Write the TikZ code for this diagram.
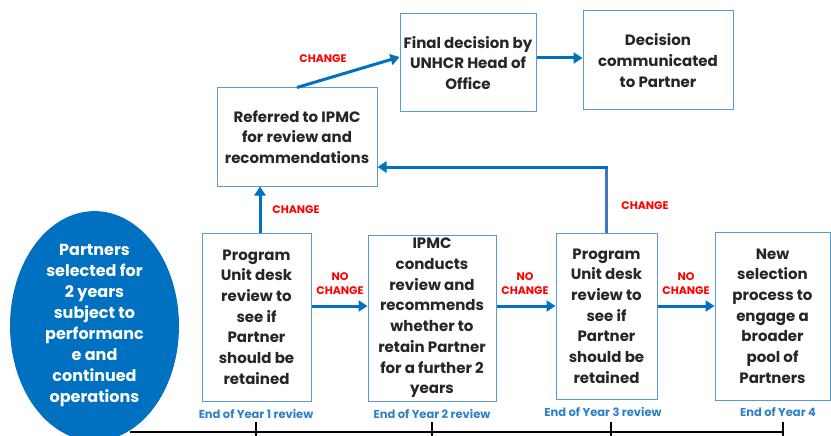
\documentclass[tikz,border=0pt]{standalone}
\usepackage{fontspec}
\setmainfont{Poppins}
\usetikzlibrary{arrows.meta,calc,shapes.geometric}
\definecolor{arrowblue}{HTML}{0070C0}
\definecolor{edgeblue}{HTML}{5B9BD5}
\definecolor{royal}{HTML}{4472C4}
\definecolor{lblblue}{HTML}{2E80C8}
\definecolor{chg}{HTML}{FF0000}
\tikzset{
  box/.style={draw=edgeblue, line width=1pt, fill=white, align=center, inner sep=0pt,
    font=\bfseries\fontsize{15}{20.7}\selectfont, text=black!85},
  flow/.style={draw=arrowblue, line width=3pt, -{Triangle[length=9pt,width=11pt]}},
  chlabel/.style={font=\bfseries\fontsize{11}{14}\selectfont, text=chg, align=center},
  yrlabel/.style={font=\bfseries\fontsize{11.5}{13}\selectfont, text=lblblue},
  tl/.style={draw=black, line width=1.5pt}
}
\begin{document}
\begin{tikzpicture}[x=1pt,y=-1pt]
\useasboundingbox (0,0) rectangle (831,436);
% ellipse
\node[ellipse, fill=arrowblue, minimum width=169pt, minimum height=212pt, inner sep=0pt,
  align=center, text=white, font=\bfseries\fontsize{16}{21}\selectfont] (ell) at (94.5,326)
  {Partners\\selected for\\2 years\\subject to\\performanc\\e and\\continued\\operations};
% boxes
\node[box, minimum width=109pt, minimum height=168pt] (b1) at (256.5,317)
  {Program\\Unit desk\\review to\\see if\\Partner\\should be\\retained};
\node[box, minimum width=128pt, minimum height=166pt] (b2) at (432,318)
  {IPMC\\conducts\\review and\\recommends\\whether to\\retain Partner\\for a further 2\\years};
\node[box, minimum width=101pt, minimum height=166pt] (b3) at (606.5,316)
  {Program\\Unit desk\\review to\\see if\\Partner\\should be\\retained};
\node[box, minimum width=115pt, minimum height=168pt] (b4) at (772.5,316)
  {New\\selection\\process to\\engage a\\broader\\pool of\\Partners};
\node[box, minimum width=160pt, minimum height=98pt] (refd) at (297,137)
  {Referred to IPMC\\for review and\\recommendations};
\node[box, minimum width=136pt, minimum height=98pt] (fin) at (468,63)
  {Final decision by\\UNHCR Head of\\Office};
\node[box, minimum width=150pt, minimum height=99pt] (dec) at (658,60.5)
  {Decision\\communicated\\to Partner};
% arrows
\draw[flow] ([xshift=3.5pt]b1.north) -- ([xshift=3.5pt]b1.north |- refd.south);
\draw[flow] (refd.north) -- ([yshift=6pt]fin.west);
\draw[flow] ([yshift=5pt]fin.east) -- ([yshift=5pt]fin.east -| dec.west);
\draw[flow] ([yshift=11pt]b1.east) -- ([yshift=11pt]b1.east -| b2.west);
\draw[flow] ([yshift=12pt]b2.east) -- ([yshift=12pt]b2.east -| b3.west);
\draw[flow] ([yshift=10pt]b3.east) -- ([yshift=10pt]b3.east -| b4.west);
\coordinate (corner) at ([yshift=-30pt]refd.east -| b3.north);
\draw[draw=royal, line width=3pt] (b3.north) -- ([yshift=1.5pt]corner);
\draw[flow] ([xshift=1.5pt]corner) -- (corner -| refd.east);
% labels
\node[chlabel] (l1) at (296,210) {CHANGE};
\node[chlabel] (l2) at (323,59) {CHANGE};
\node[chlabel] (l3) at (340,284) {NO\\CHANGE};
\node[chlabel] (l4) at (525,284) {NO\\CHANGE};
\node[chlabel] (l5) at (686,284) {NO\\CHANGE};
\node[chlabel] (l6) at (645,206) {CHANGE};
% timeline
\coordinate (t0) at (130,432);
\coordinate (t1) at (256,432);
\coordinate (t2) at (432,432);
\coordinate (t3) at (611,432);
\coordinate (t4) at (783,432);
\draw[tl] (t0) -- (t4);
\foreach \t in {t1,t2,t3,t4} \draw[tl] ($(\t)+(0,-10)$) -- ($(\t)+(0,4)$);
\node[yrlabel] (y1) at (256,414) {End of Year 1 review};
\node[yrlabel] (y2) at (432,414) {End of Year 2 review};
\node[yrlabel] (y3) at (603,412) {End of Year 3 review};
\node[yrlabel] (y4) at (778,412) {End of Year 4};
\end{tikzpicture}
\end{document}
